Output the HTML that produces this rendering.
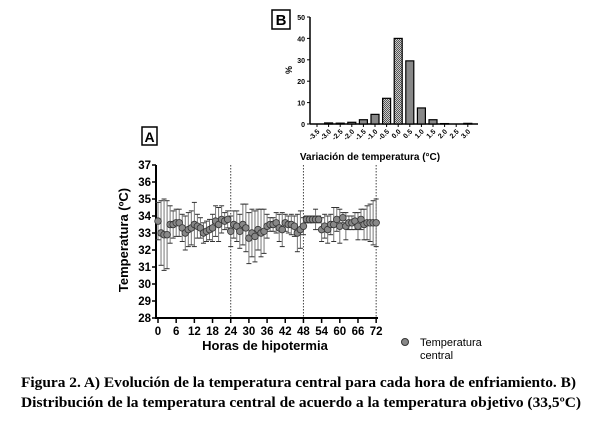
<!DOCTYPE html>
<html><head><meta charset="utf-8"><style>
html,body{margin:0;padding:0;background:#fff;}
svg{display:block;}
text{font-family:"Liberation Sans",sans-serif;}
</style></head><body>
<svg id="s" width="615" height="426" viewBox="0 0 615 426" xmlns="http://www.w3.org/2000/svg">
<rect width="615" height="426" fill="#fff"/>
<defs>
<pattern id="hat" width="2" height="2" patternUnits="userSpaceOnUse"><rect width="2" height="2" fill="#ccc"/><rect width="1" height="1" fill="#555"/><rect x="1" y="1" width="1" height="1" fill="#555"/></pattern>
</defs>
<rect x="272" y="10" width="18" height="19" fill="#fff" stroke="#000" stroke-width="1.5"/>
<text x="281" y="25" font-size="15" font-weight="bold" text-anchor="middle">B</text>
<g id="B"></g>
<text x="370" y="160" font-size="10" font-weight="bold" text-anchor="middle">Variación de temperatura (°C)</text>
<text transform="translate(292,70) rotate(-90)" font-size="9" font-weight="bold" text-anchor="middle">%</text>
<rect x="142" y="127" width="15" height="18" fill="#fff" stroke="#000" stroke-width="1.5"/>
<text x="149.5" y="142" font-size="14" font-weight="bold" text-anchor="middle">A</text>
<g id="A"></g>
<text x="265" y="350" font-size="13" font-weight="bold" text-anchor="middle">Horas de hipotermia</text>
<text transform="translate(128,240) rotate(-90)" font-size="13" font-weight="bold" text-anchor="middle">Temperatura (ºC)</text>
<circle cx="405" cy="342" r="3.5" fill="#888" stroke="#333" stroke-width="1"/>
<text x="420" y="346" font-size="11">Temperatura</text>
<text x="420" y="359" font-size="11">central</text>
<text x="21" y="387" font-size="14.5" font-weight="bold" textLength="555" lengthAdjust="spacingAndGlyphs" style="font-family:'Liberation Serif',serif">Figura 2. A) Evolución de la temperatura central para cada hora de enfriamiento. B)</text>
<text x="21" y="407" font-size="14.5" font-weight="bold" textLength="560" lengthAdjust="spacingAndGlyphs" style="font-family:'Liberation Serif',serif">Distribución de la temperatura central de acuerdo a la temperatura objetivo (33,5ºC)</text>
</svg>
<script>
var NS="http://www.w3.org/2000/svg";
function el(p,t,a,txt){var e=document.createElementNS(NS,t);for(var k in a)e.setAttribute(k,a[k]);if(txt!=null)e.textContent=txt;p.appendChild(e);return e;}
var B=document.getElementById("B");
var y0=124,ppu=2.14,ax=310;
el(B,"line",{x1:ax,y1:17,x2:ax,y2:y0,stroke:"#000","stroke-width":1.5});
el(B,"line",{x1:ax,y1:y0,x2:478,y2:y0,stroke:"#000","stroke-width":1.5});
[0,10,20,30,40,50].forEach(function(v){var y=y0-v*ppu;el(B,"line",{x1:ax-3,y1:y,x2:ax,y2:y,stroke:"#000"});el(B,"text",{x:ax-5,y:y+3,"font-size":7,"font-weight":"bold","text-anchor":"end"},v);});
var vals=[0,0.5,0.4,0.8,2,4.5,12,40,29.5,7.5,2,0.2,0,0.3];
var labs=["-3.5","-3.0","-2.5","-2.0","-1.5","-1.0","-0.5","0.0","0.5","1.0","1.5","2.0","2.5","3.0"];
vals.forEach(function(v,i){var cx=317+i*11.6;
 if(v>0){el(B,"rect",{x:cx-4,y:y0-v*ppu,width:8,height:v*ppu,fill:(i==6||i==7)?"url(#hat)":"#888",stroke:"#000","stroke-width":1.2});}
 el(B,"line",{x1:cx,y1:y0,x2:cx,y2:y0+3,stroke:"#000"});
 el(B,"text",{transform:"translate("+(cx+3)+","+(y0+8)+") rotate(-45)","font-size":7,"font-weight":"bold","text-anchor":"end"},labs[i]);
});
var A=document.getElementById("A");
var X=function(h){return 158+h*3.03;},Y=function(t){return 318-(t-28)*17;};
[24,48,72].forEach(function(h){el(A,"line",{x1:X(h),y1:165,x2:X(h),y2:318,stroke:"#444","stroke-dasharray":"1.5,1.5","stroke-width":1});});
el(A,"line",{x1:156,y1:165,x2:156,y2:319,stroke:"#000","stroke-width":2});
el(A,"line",{x1:155,y1:318,x2:378,y2:318,stroke:"#000","stroke-width":2});
for(var t=28;t<=37;t++){el(A,"line",{x1:152,y1:Y(t),x2:156,y2:Y(t),stroke:"#000","stroke-width":1.5});el(A,"text",{x:151,y:Y(t)+4,"font-size":11.5,"font-weight":"bold","text-anchor":"end"},t);}
for(var h=0;h<=72;h+=6){el(A,"line",{x1:X(h),y1:318,x2:X(h),y2:323,stroke:"#000","stroke-width":1.5});el(A,"text",{x:X(h),y:335,"font-size":11.5,"font-weight":"bold","text-anchor":"middle"},h);}
var m=[33.7,33.0,32.9,32.9,33.5,33.5,33.6,33.6,33.3,33.0,33.2,33.3,33.5,33.4,33.3,33.0,33.1,33.2,33.3,33.7,33.5,33.8,33.7,33.8,33.1,33.5,33.4,33.1,33.5,33.3,32.7,33.0,32.8,33.2,33.0,33.1,33.4,33.5,33.5,33.6,33.3,33.2,33.6,33.5,33.5,33.4,33.0,33.2,33.4,33.8,33.8,33.8,33.8,33.8,33.2,33.4,33.2,33.5,33.5,33.8,33.4,33.9,33.4,33.6,33.6,33.7,33.4,33.8,33.5,33.6,33.6,33.6,33.6];
var e=[1.1,1.9,2.1,2.0,1.1,0.8,0.8,0.8,0.8,1.0,1.0,1.0,1.3,0.7,0.6,0.6,0.6,0.6,0.8,0.9,1.0,0.8,0.5,0.5,0.9,0.8,0.9,1.0,1.2,1.4,1.5,1.4,1.5,1.2,1.4,1.3,0.7,0.4,0.4,0.6,0.8,1.0,0.5,0.5,0.6,0.6,1.1,1.1,0.5,0.2,0.2,0.2,0.6,0.2,0.7,0.7,0.8,0.6,1.0,0.7,1.0,0.3,0.8,0.4,0.4,0.5,0.8,0.6,0.9,1.0,1.1,1.3,1.4];
m.forEach(function(v,i){var x=X(i),a=Y(v+e[i]),b=Y(v-e[i]);
 el(A,"line",{x1:x,y1:a,x2:x,y2:b,stroke:"#777","stroke-width":1});
 el(A,"line",{x1:x-2.5,y1:a,x2:x+2.5,y2:a,stroke:"#333","stroke-width":1});
 el(A,"line",{x1:x-2.5,y1:b,x2:x+2.5,y2:b,stroke:"#333","stroke-width":1});});
m.forEach(function(v,i){el(A,"circle",{cx:X(i),cy:Y(v),r:3.3,fill:"#888",stroke:"#333","stroke-width":0.8});});
</script>
</body></html>
